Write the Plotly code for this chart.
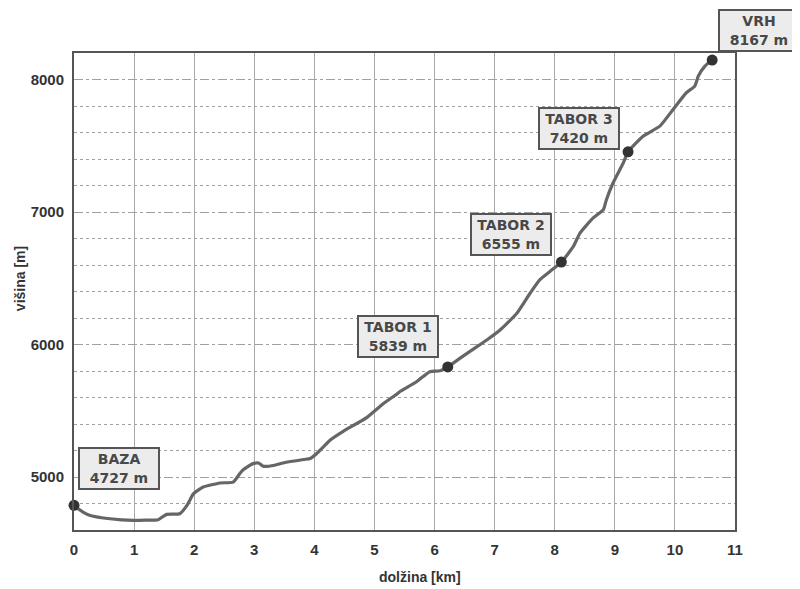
import plotly.graph_objects as go

# Elevation profile
distance_km = [0.00, 0.07, 0.15, 0.27, 0.60, 0.99, 1.20, 1.40, 1.54, 1.76, 1.88, 1.99,
               2.15, 2.43, 2.65, 2.76, 2.82, 2.98, 3.07, 3.15, 3.34, 3.48, 3.82, 3.93,
               4.04, 4.15, 4.26, 4.48, 4.87, 5.15, 5.37, 5.42, 5.70, 5.92, 6.09, 6.22,
               6.42, 6.70, 6.87, 7.09, 7.37, 7.59, 7.75, 7.92, 8.11, 8.31, 8.42, 8.64,
               8.81, 8.86, 8.97, 9.14, 9.22, 9.47, 9.75, 9.97, 10.19, 10.33, 10.39,
               10.50, 10.62]
elevation_m = [4786, 4761, 4735, 4710, 4685, 4672, 4674, 4678, 4718, 4723, 4786, 4874,
               4924, 4955, 4962, 5026, 5056, 5101, 5106, 5081, 5089, 5106, 5132, 5139,
               5177, 5227, 5278, 5345, 5448, 5555, 5625, 5643, 5719, 5795, 5802, 5831,
               5895, 5982, 6034, 6109, 6236, 6387, 6488, 6551, 6622, 6740, 6841, 6955,
               7018, 7093, 7219, 7370, 7454, 7572, 7648, 7774, 7900, 7950, 8026,
               8101, 8147]

# Camps
camp_names = ["BAZA", "TABOR 1", "TABOR 2", "TABOR 3", "VRH"]
camp_km = [0.0, 6.22, 8.11, 9.22, 10.62]
camp_marker_m = [4786, 5831, 6622, 7454, 8147]
camp_label_m = [4727, 5839, 6555, 7420, 8167]

# Axis ticks
x_ticks = list(range(0, 12))
y_ticks = [5000, 6000, 7000, 8000]

# label offsets in pixels (x, y up)
label_offsets = [(45, 37), (-50, 30), (-50, 28), (-49, 23), (47, 30)]

fig = go.Figure()
fig.add_trace(go.Scatter(
    x=distance_km, y=elevation_m, mode="lines",
    line=dict(color="#666666", width=3.2, shape="spline", smoothing=0.5),
    hoverinfo="skip", showlegend=False))
fig.add_trace(go.Scatter(
    x=camp_km, y=camp_marker_m, mode="markers",
    marker=dict(color="#333333", size=11), cliponaxis=False,
    showlegend=False))

for name, xk, ym, lab, (dx, dy) in zip(camp_names, camp_km, camp_marker_m, camp_label_m, label_offsets):
    fig.add_annotation(
        x=xk, y=ym, xref="x", yref="y",
        text=f"<b>{name}</b><br><b>{lab} m</b>",
        showarrow=False, xshift=dx, yshift=dy,
        xanchor="center", yanchor="middle",
        font=dict(family="DejaVu Sans, Verdana, sans-serif", size=14, color="#484848"),
        bgcolor="#ececec", bordercolor="#555555", borderwidth=2, borderpad=2,
        align="center", width=74, height=35)

tickfont = dict(family="Liberation Sans Narrow, Liberation Sans, Arial, sans-serif",
                size=15, color="#333333", weight="bold")

fig.update_xaxes(
    range=[0, 11], tickvals=x_ticks, ticktext=[str(v) for v in x_ticks],
    showgrid=True, gridcolor="#a8a8a8", gridwidth=1,
    showline=True, linecolor="#555555", linewidth=2, mirror=True,
    ticks="", tickfont=tickfont, ticklabelstandoff=5, zeroline=False)
fig.update_yaxes(
    range=[4600, 8200], tickvals=y_ticks, ticktext=[str(v) for v in y_ticks],
    showgrid=True, gridcolor="#a0a0a0", gridwidth=1, griddash="dash",
    minor=dict(dtick=200, tick0=4600, showgrid=True, gridcolor="#a0a0a0", griddash="dot", gridwidth=1),
    showline=True, linecolor="#555555", linewidth=2, mirror=True,
    ticks="", tickfont=tickfont, ticklabelstandoff=5, zeroline=False)

titlefont = dict(family="Liberation Sans Narrow, Liberation Sans, Arial, sans-serif",
                 size=14, color="#333333", weight="bold")
fig.add_annotation(text="dolžina [km]", xref="paper", yref="paper",
                   x=0.523, y=-0.0985, xanchor="center", yanchor="middle",
                   showarrow=False, font=titlefont)
fig.add_annotation(text="višina [m]", xref="paper", yref="paper",
                   x=-0.0817, y=0.528, xanchor="center", yanchor="middle",
                   textangle=-90, showarrow=False, font=titlefont)

fig.update_layout(
    width=792, height=581,
    margin=dict(l=66, r=65, t=45, b=59),
    plot_bgcolor="white", paper_bgcolor="white",
    showlegend=False)

fig.write_html("out.html")
